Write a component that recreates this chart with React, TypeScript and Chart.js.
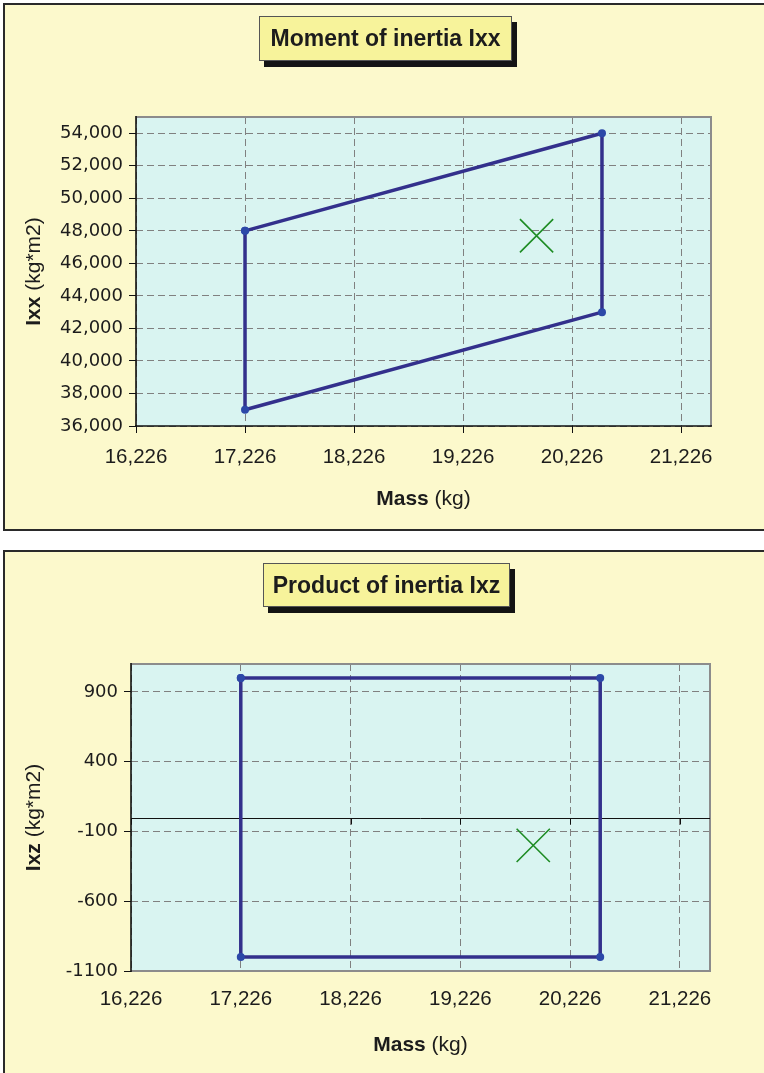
import React, { useEffect, useRef } from "react";
import { Chart, registerables } from "chart.js";

Chart.register(...registerables);

// ---------- data ----------
const massTicks = [16226, 17226, 18226, 19226, 20226, 21226];
const massMin = 16226;
const massMax = 21500;

const ixxTicks = [36000, 38000, 40000, 42000, 44000, 46000, 48000, 50000, 52000, 54000];
const ixxMin = 36000;
const ixxMax = 55000;

const ixzTicks = [-1100, -600, -100, 400, 900];
const ixzMin = -1100;
const ixzMax = 1100;

const ixxEnvelopeMass = [17226, 20500, 20500, 17226, 17226];
const ixxEnvelopeValues = [48000, 54000, 43000, 37000, 48000];
const ixxCgMass = [19900];
const ixxCgValues = [47700];

const ixzEnvelopeMass = [17226, 20500, 20500, 17226, 17226];
const ixzEnvelopeValues = [1000, 1000, -1000, -1000, 1000];
const ixzCgMass = [19890];
const ixzCgValues = [-200];

// ---------- styles ----------
const FONT = "'Liberation Sans', Arial, Helvetica, sans-serif";
const YFONT = "'DejaVu Sans', 'Liberation Sans', sans-serif";
const TEXT = "#1c1c1c";
const PANEL_BG = "#FCF9CC";
const PLOT_BG = "#D9F4F1";
const GRID = "#808080";
const FRAME = "#8c8c8c";
const LINE = "#33308C";
const MARK = "#2C48A8";
const CG = "#1E8C24";
const TITLE_BG = "#F7F39B";

type Area = { left: number; top: number; right: number; bottom: number };

type PanelCfg = {
  envX: number[];
  envY: number[];
  cgX: number[];
  cgY: number[];
  yTicks: number[];
  yMin: number;
  yMax: number;
  yFmt: (v: number) => string;
  area: Area;
  width: number;
  height: number;
  yTitle: [string, string];
  xTitleY: number;
  yTitleX: number;
  zeroLine: boolean;
  xLabelPad: number;
};

function drawMixed(ctx: CanvasRenderingContext2D, bold: string, regular: string, cx: number, cy: number) {
  const bf = `bold 21px ${FONT}`;
  const rf = `21px ${FONT}`;
  ctx.font = bf;
  const bw = ctx.measureText(bold + " ").width;
  ctx.font = rf;
  const rw = ctx.measureText(regular).width;
  const x0 = cx - (bw + rw) / 2;
  ctx.textBaseline = "middle";
  ctx.textAlign = "left";
  ctx.fillStyle = TEXT;
  ctx.font = bf;
  ctx.fillText(bold, x0, cy);
  ctx.font = rf;
  ctx.fillText(regular, x0 + bw, cy);
}

function buildChart(canvas: HTMLCanvasElement, cfg: PanelCfg) {
  const { area } = cfg;
  const plugin = {
    id: "panelDecor",
    beforeDraw(chart: any) {
      const { ctx, chartArea: a } = chart;
      ctx.save();
      ctx.fillStyle = PLOT_BG;
      ctx.fillRect(a.left, a.top, a.right - a.left, a.bottom - a.top);
      ctx.restore();
    },
    beforeDatasetsDraw(chart: any) {
      const { ctx, chartArea: a } = chart;
      ctx.save();
      ctx.setLineDash([]);
      // gray frame: top, right (and bottom for panel 2)
      ctx.strokeStyle = FRAME;
      ctx.lineWidth = 2;
      ctx.beginPath();
      ctx.moveTo(a.left, a.top);
      ctx.lineTo(a.right, a.top);
      ctx.lineTo(a.right, a.bottom);
      if (cfg.zeroLine) ctx.lineTo(a.left, a.bottom);
      ctx.stroke();
      // black axis lines
      ctx.strokeStyle = "#111";
      ctx.lineWidth = 1.6;
      ctx.beginPath();
      ctx.moveTo(a.left, a.top - 1);
      ctx.lineTo(a.left, a.bottom + 1);
      if (!cfg.zeroLine) {
        ctx.moveTo(a.left - 1, a.bottom);
        ctx.lineTo(a.right + 1, a.bottom);
      }
      ctx.stroke();
      if (cfg.zeroLine) {
        const ys = chart.scales.y;
        const xs = chart.scales.x;
        const y0 = Math.round(ys.getPixelForValue(0)) + 0.5;
        ctx.strokeStyle = "#111";
        ctx.lineWidth = 1;
        ctx.beginPath();
        ctx.moveTo(a.left, y0);
        ctx.lineTo(a.right, y0);
        for (const t of massTicks) {
          const px = Math.round(xs.getPixelForValue(t)) + 0.5;
          ctx.moveTo(px, y0);
          ctx.lineTo(px, y0 + 6);
        }
        ctx.stroke();
      }
      ctx.restore();
    },
    afterDraw(chart: any) {
      const { ctx, chartArea: a } = chart;
      ctx.save();
      drawMixed(ctx, "Mass", "(kg)", (a.left + a.right) / 2, cfg.xTitleY);
      ctx.translate(cfg.yTitleX, (a.top + a.bottom) / 2);
      ctx.rotate(-Math.PI / 2);
      drawMixed(ctx, cfg.yTitle[0], cfg.yTitle[1], 0, 0);
      ctx.restore();
    },
  };

  const xHeight = cfg.height - area.bottom;

  return new Chart(canvas, {
    type: "scatter",
    data: {
      datasets: [
        {
          data: cfg.envX.map((x, i) => ({ x, y: cfg.envY[i] })),
          showLine: true,
          borderColor: LINE,
          borderWidth: 3.5,
          borderJoinStyle: "round",
          pointRadius: 4,
          pointBackgroundColor: MARK,
          pointBorderColor: MARK,
          pointBorderWidth: 0,
          tension: 0,
          fill: false,
        } as any,
        {
          data: cfg.cgX.map((x, i) => ({ x, y: cfg.cgY[i] })),
          showLine: false,
          pointStyle: "crossRot",
          pointRadius: 23.5,
          borderColor: CG,
          pointBorderColor: CG,
          pointBorderWidth: 1.6,
          borderWidth: 1.6,
        } as any,
      ],
    },
    options: {
      responsive: false,
      animation: false,
      events: [],
      layout: {
        padding: { left: 0, top: area.top, right: cfg.width - area.right, bottom: 0 },
      },
      plugins: {
        legend: { display: false },
        tooltip: { enabled: false },
        title: { display: false },
      },
      scales: {
        x: {
          type: "linear",
          position: "bottom",
          min: massMin,
          max: massMax,
          afterBuildTicks: (s: any) => {
            s.ticks = massTicks.map((v) => ({ value: v }));
          },
          afterFit: (s: any) => {
            s.height = xHeight;
          },
          ticks: {
            autoSkip: false,
            maxRotation: 0,
            padding: cfg.xLabelPad,
            color: TEXT,
            font: { family: FONT, size: 20.5 },
            callback: (v: any) => Number(v).toLocaleString("en-US"),
          },
          grid: {
            color: GRID,
            lineWidth: 1,
            drawTicks: !cfg.zeroLine,
            tickLength: 7,
            tickColor: "#111",
            tickBorderDash: [],
          },
          border: {
            display: false,
            dash: [7, 4],
          },
        },
        y: {
          type: "linear",
          position: "left",
          min: cfg.yMin,
          max: cfg.yMax,
          afterBuildTicks: (s: any) => {
            s.ticks = cfg.yTicks.map((v) => ({ value: v }));
          },
          afterFit: (s: any) => {
            s.width = area.left;
          },
          ticks: {
            autoSkip: false,
            padding: 6,
            color: TEXT,
            font: { family: YFONT, size: 18 },
            callback: (v: any) => cfg.yFmt(Number(v)),
          },
          grid: {
            color: GRID,
            lineWidth: 1,
            drawTicks: true,
            tickLength: 7,
            tickColor: "#111",
            tickBorderDash: [],
          },
          border: {
            display: false,
            dash: [7, 4],
          },
        },
      },
    } as any,
    plugins: [plugin as any],
  });
}

function ChartCanvas({ cfg, top }: { cfg: PanelCfg; top: number }) {
  const ref = useRef<HTMLCanvasElement | null>(null);
  useEffect(() => {
    if (!ref.current) return;
    const chart = buildChart(ref.current, cfg);
    return () => chart.destroy();
  }, []);
  return (
    <canvas
      ref={ref}
      width={cfg.width}
      height={cfg.height}
      style={{ position: "absolute", left: 0, top, width: cfg.width, height: cfg.height }}
    />
  );
}

function TitleBox({ text, left, top, width, height }: { text: string; left: number; top: number; width: number; height: number }) {
  return (
    <div
      style={{
        position: "absolute",
        left,
        top,
        width,
        height,
        boxSizing: "border-box",
        background: TITLE_BG,
        border: "1px solid #555",
        boxShadow: "5px 6px 0 #141414",
        display: "flex",
        alignItems: "center",
        justifyContent: "center",
        fontFamily: FONT,
        fontWeight: "bold",
        fontSize: 23,
        color: TEXT,
        whiteSpace: "nowrap",
        zIndex: 2,
      }}
    >
      {text}
    </div>
  );
}

const panel1: PanelCfg = {
  envX: ixxEnvelopeMass,
  envY: ixxEnvelopeValues,
  cgX: ixxCgMass,
  cgY: ixxCgValues,
  yTicks: ixxTicks,
  yMin: ixxMin,
  yMax: ixxMax,
  yFmt: (v) => v.toLocaleString("en-US"),
  area: { left: 136, top: 117, right: 711, bottom: 426 },
  width: 764,
  height: 540,
  yTitle: ["Ixx", "(kg*m2)"],
  xTitleY: 499,
  yTitleX: 34,
  zeroLine: false,
  xLabelPad: 12,
};

const panel2: PanelCfg = {
  envX: ixzEnvelopeMass,
  envY: ixzEnvelopeValues,
  cgX: ixzCgMass,
  cgY: ixzCgValues,
  yTicks: ixzTicks,
  yMin: ixzMin,
  yMax: ixzMax,
  yFmt: (v) => String(v),
  area: { left: 131, top: 124, right: 710, bottom: 431 },
  width: 764,
  height: 533,
  yTitle: ["Ixz", "(kg*m2)"],
  xTitleY: 505,
  yTitleX: 34,
  zeroLine: true,
  xLabelPad: 16,
};

export default function App() {
  return (
    <div
      style={{
        position: "absolute",
        left: 0,
        top: 0,
        width: 764,
        height: 1073,
        overflow: "hidden",
        background: "#fff",
      }}
    >
      <div
        style={{
          position: "absolute",
          left: 3,
          top: 3,
          width: 820,
          height: 528,
          boxSizing: "border-box",
          border: "2px solid #2a2a2a",
          background: PANEL_BG,
        }}
      />
      <div
        style={{
          position: "absolute",
          left: 3,
          top: 550,
          width: 820,
          height: 600,
          boxSizing: "border-box",
          border: "2px solid #2a2a2a",
          background: PANEL_BG,
        }}
      />
      <ChartCanvas cfg={panel1} top={0} />
      <ChartCanvas cfg={panel2} top={540} />
      <TitleBox text="Moment of inertia Ixx" left={259} top={16} width={253} height={45} />
      <TitleBox text="Product of inertia Ixz" left={263} top={563} width={247} height={44} />
    </div>
  );
}
